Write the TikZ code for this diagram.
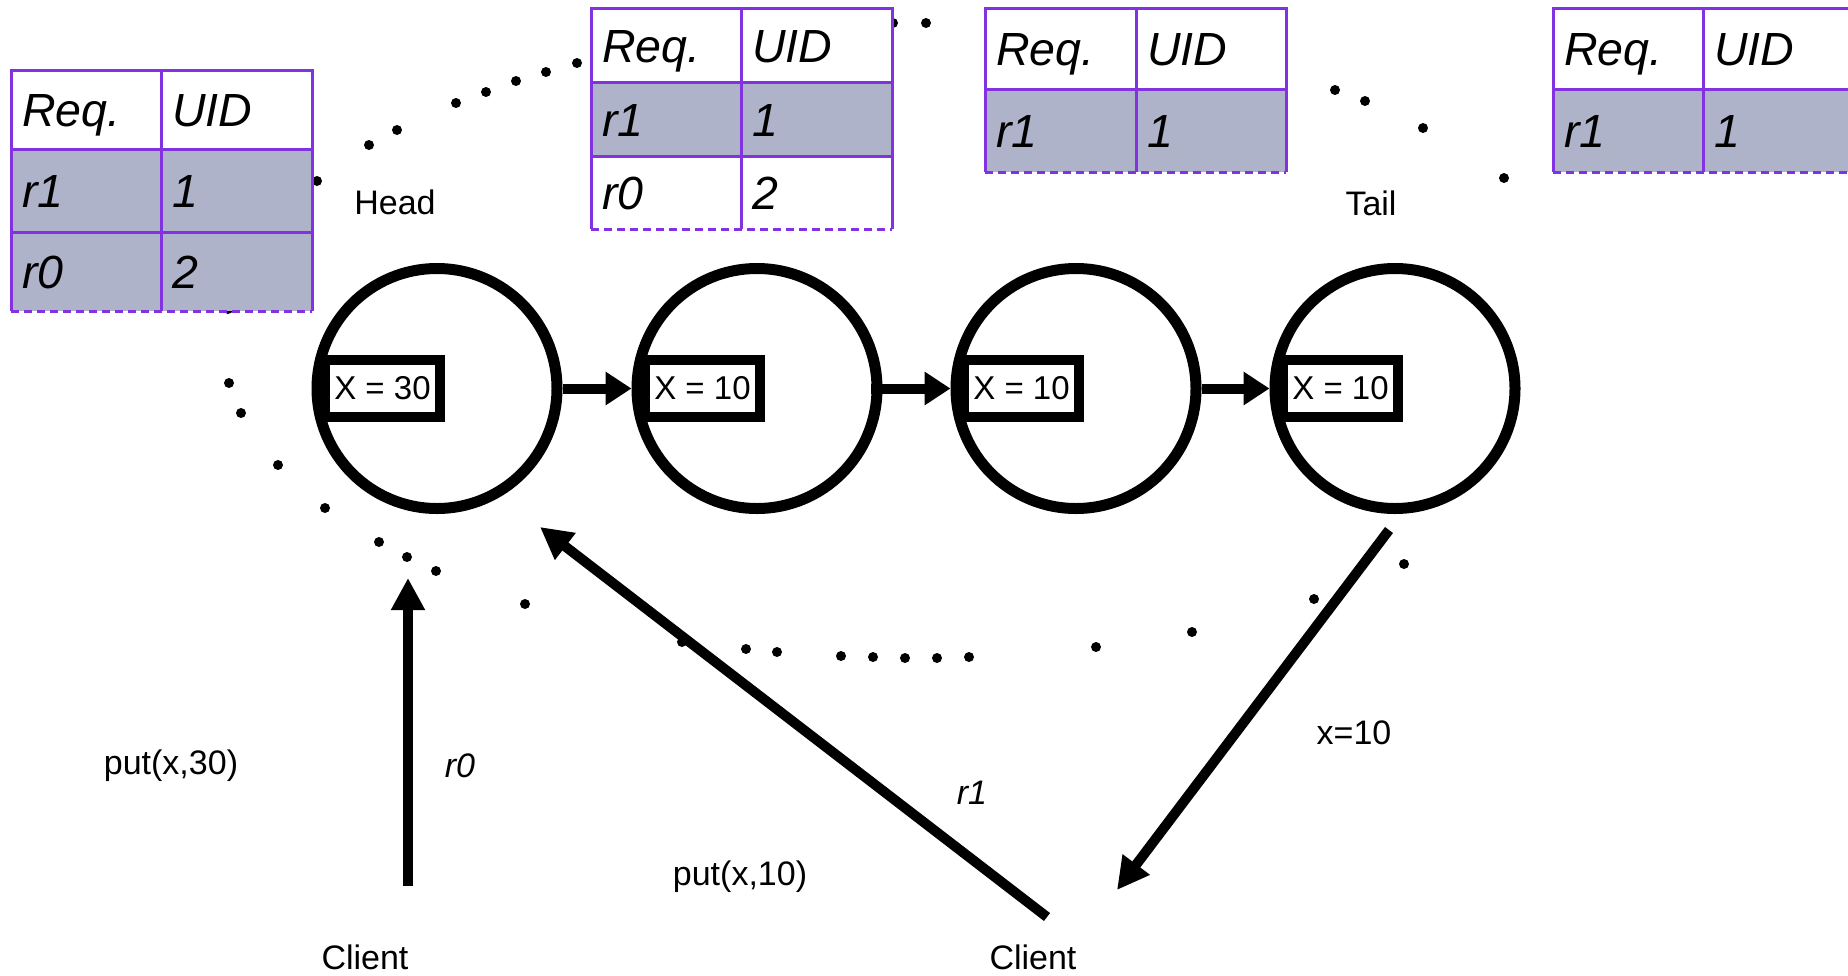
\documentclass[tikz,border=0pt]{standalone}
\usepackage{fontspec}
\setmainfont{Liberation Sans}
\usetikzlibrary{arrows.meta}
\definecolor{tblline}{RGB}{130,50,225}
\definecolor{tblshade}{RGB}{175,179,201}
\newcommand\lblfont{\fontsize{34}{40}\selectfont}
\newcommand\cellfont{\fontsize{46.5}{54}\selectfont\itshape}
\newcommand\valfont{\fontsize{33}{40}\selectfont}
\tikzset{
  ring/.style={circle, draw, line width=11pt, fill=white, minimum size=240pt, inner sep=0pt},
  valbox/.style={rectangle, draw, line width=10pt, fill=white, minimum width=115pt,
    minimum height=57pt, inner sep=0pt, font=\valfont},
  link/.style={line width=10pt, -{Triangle[length=26pt,width=32pt]}},
  request/.style={line width=10pt, -{Triangle[length=32pt,width=32pt]}},
  tblrule/.style={draw=tblline, line width=3pt},
  tbldash/.style={draw=tblline, line width=3pt, dash pattern=on 8pt off 5pt},
  cell/.style={anchor=base west, inner sep=0pt, font=\cellfont},
  lbl/.style={inner sep=0pt, font=\lblfont},
  ilbl/.style={inner sep=0pt, font=\lblfont\itshape},
}
\begin{document}
\begin{tikzpicture}[x=1pt,y=-1pt]
\useasboundingbox (0,0) rectangle (1848,975);
\clip (0,0) rectangle (1848,975);

% dotted loop around the chain
\foreach \px/\py in {317/181,369/145,397/130,456/103,486/92,516/81,546/72,577/63,
  893/23,926/23,1335/90,1365/101,1423/128,1504/178,
  1404/564,1314/599,1192/632,1096/647,969/657,937/658,905/658,873/657,841/656,
  777/652,746/649,682/642,525/604,436/571,407/557,379/542,325/508,278/465,
  241/413,229/383,228/309}
  \fill (\px,\py) circle[radius=5pt];

% table at the head (two shaded rows)
\fill[white] (11,70) rectangle (312,149);
\fill[tblshade] (11,149) rectangle (312,311);
\draw[tblrule] (11,311) -- (11,70) -- (312,70) -- (312,311);
\draw[tblrule] (161,70) -- (161,311) (11,149) -- (312,149) (11,232) -- (312,232);
\draw[tbldash] (11,311) -- (312,311);
\node[cell] (ta1) at (22,126) {Req.};
\node[cell] (ta2) at (172,126) {UID};
\node[cell] (ta3) at (22,207) {r1};
\node[cell] (ta4) at (172,207) {1};
\node[cell] (ta5) at (22,288) {r0};
\node[cell] (ta6) at (172,288) {2};

% table at the second replica
\fill[white] (591,8) rectangle (892,229);
\fill[tblshade] (591,82) rectangle (892,156);
\draw[tblrule] (591,229) -- (591,8) -- (892,8) -- (892,229);
\draw[tblrule] (741,8) -- (741,229) (591,82) -- (892,82) (591,156) -- (892,156);
\draw[tbldash] (591,229) -- (892,229);
\node[cell] (tb1) at (602,62) {Req.};
\node[cell] (tb2) at (752,62) {UID};
\node[cell] (tb3) at (602,136) {r1};
\node[cell] (tb4) at (752,136) {1};
\node[cell] (tb5) at (602,209) {r0};
\node[cell] (tb6) at (752,209) {2};

% table at the third replica
\fill[white] (985,8) rectangle (1286,89);
\fill[tblshade] (985,89) rectangle (1286,172);
\draw[tblrule] (985,172) -- (985,8) -- (1286,8) -- (1286,172);
\draw[tblrule] (1136,8) -- (1136,172) (985,89) -- (1286,89);
\draw[tbldash] (985,172) -- (1286,172);
\node[cell] (tc1) at (996,65) {Req.};
\node[cell] (tc2) at (1147,65) {UID};
\node[cell] (tc3) at (996,147) {r1};
\node[cell] (tc4) at (1147,147) {1};

% table at the tail
\fill[white] (1553,8) rectangle (1854,89);
\fill[tblshade] (1553,89) rectangle (1854,172);
\draw[tblrule] (1553,172) -- (1553,8) -- (1854,8) -- (1854,172);
\draw[tblrule] (1703,8) -- (1703,172) (1553,89) -- (1854,89);
\draw[tbldash] (1553,172) -- (1854,172);
\node[cell] (td1) at (1564,65) {Req.};
\node[cell] (td2) at (1714,65) {UID};
\node[cell] (td3) at (1564,147) {r1};
\node[cell] (td4) at (1714,147) {1};

% chain replicas
\node[ring] (n1) at (437,388.5) {};
\node[ring] (n2) at (757,388.5) {};
\node[ring] (n3) at (1076,388.5) {};
\node[ring] (n4) at (1395,388.5) {};
\node[valbox] (v1) at (382.5,388.5) {X = 30};
\node[valbox] (v2) at (702.5,388.5) {X = 10};
\node[valbox] (v3) at (1021.5,388.5) {X = 10};
\node[valbox] (v4) at (1340.5,388.5) {X = 10};

\draw[link] (n1) -- (n2);
\draw[link, shorten <=-12pt] (n2) -- (n3);
\draw[link] (n3) -- (n4);

\node[lbl] (head) at (395,202) {Head};
\node[lbl] (tail) at (1371,203) {Tail};

% client requests
\coordinate (r0from) at (408,886);
\coordinate (r0to) at (408,578);
\coordinate (r1from) at (1047,917);
\coordinate (r1to) at (540,527);
\coordinate (ackfrom) at (1389,530);
\coordinate (ackto) at (1117,890);
\draw[request] (r0from) -- (r0to);
\draw[request] (r1from) -- (r1to);
\draw[request] (ackfrom) -- (ackto);

\node[lbl] (put30) at (171,766) {put(x,30)};
\node[ilbl] (lr0) at (460,766) {r0};
\node[ilbl] (lr1) at (972,793) {r1};
\node[lbl] (put10) at (740,877) {put(x,10)};
\node[lbl] (ack) at (1354,733) {x=10};
\node[lbl] (client1) at (365,957) {Client};
\node[lbl] (client2) at (1033,957) {Client};
\end{tikzpicture}
\end{document}
